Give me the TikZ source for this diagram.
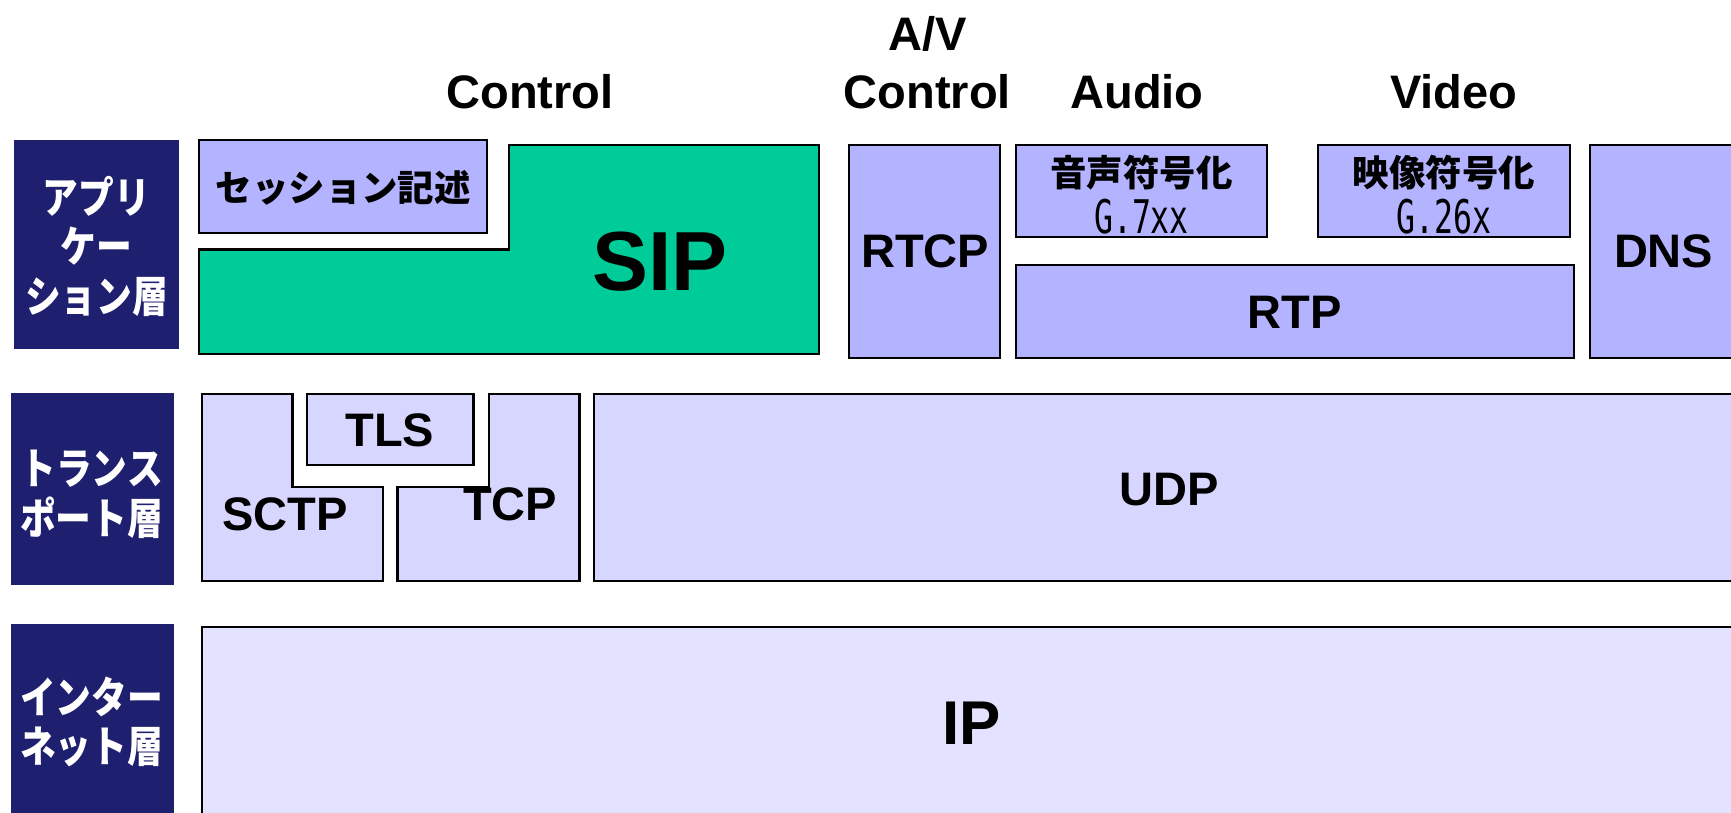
\documentclass[tikz,border=0pt]{standalone}
\usepackage{fontspec}
\setmainfont{Liberation Sans}
\newfontfamily\jp{Noto Sans CJK JP}
\newfontfamily\jpn{Noto Sans CJK JP}[FakeStretch=0.83]
\newfontfamily\monof{DejaVu Sans Mono}[FakeStretch=0.68]
\definecolor{navy}{HTML}{1F1F70}
\definecolor{appc}{HTML}{B3B3FF}
\definecolor{sipc}{HTML}{00CC99}
\definecolor{trc}{HTML}{D6D6FF}
\definecolor{ipc}{HTML}{E3E3FF}
\tikzset{
  layerbox/.style={fill=navy},
  layertext/.style={text=white, font=\jpn\bfseries\fontsize{19.5}{22.5}\selectfont, align=center, inner sep=0pt},
  protobox/.style={draw=black, line width=1pt},
  protolab/.style={font=\bfseries\fontsize{21.3}{24}\selectfont, inner sep=0pt},
  hdr/.style={font=\bfseries\fontsize{21.3}{24}\selectfont, anchor=base, inner sep=0pt},
  jplab/.style={font=\jp\bfseries\fontsize{16.5}{20}\selectfont, inner sep=0pt},
  codelab/.style={font=\monof\fontsize{21}{24}\selectfont, inner sep=0pt}
}
\begin{document}
\begin{tikzpicture}[x=0.5pt,y=-0.5pt]
\clip (0,0) rectangle (1568,736);
\fill[white] (0,0) rectangle (1568,736);

% headers
\node[hdr] (hctl) at (480,98) {Control};
\node[hdr] (hav) at (840,46) {A/V};
\node[hdr] (havc) at (840,98) {Control};
\node[hdr] (haud) at (1030,98) {Audio};
\node[hdr] (hvid) at (1317,98) {Video};

% layer labels
\fill[layerbox] (13,127) rectangle (162,316);
\node[layertext] (lapp) at (87.5,223) {アプリ\\ケー\\ション層};
\fill[layerbox] (10,356) rectangle (158,530);
\node[layertext] (ltr) at (83,448) {トランス\\ポート層};
\fill[layerbox] (10,565) rectangle (158,740);
\node[layertext] (lnet) at (83,654) {インター\\ネット層};

% application layer
\filldraw[protobox, fill=appc] (180,127) rectangle (441,211);
\node[jplab] (sdp) at (311,170) {セッション記述};
\filldraw[protobox, fill=sipc] (180,226) -- (461,226) -- (461,131) -- (742,131) -- (742,321) -- (180,321) -- cycle;
\node[font=\bfseries\fontsize{38}{40}\selectfont, inner sep=0pt] (sip) at (598,237) {SIP};
\filldraw[protobox, fill=appc] (769,131) rectangle (906,324);
\node[protolab] (rtcp) at (838,228) {RTCP};
\filldraw[protobox, fill=appc] (920,131) rectangle (1148,215);
\node[jplab] (acod) at (1034,156) {音声符号化};
\node[codelab] (g7) at (1034,196) {G.7xx};
\filldraw[protobox, fill=appc] (1194,131) rectangle (1422,215);
\node[jplab] (vcod) at (1308,156) {映像符号化};
\node[codelab] (g26) at (1308,196) {G.26x};
\filldraw[protobox, fill=appc] (920,240) rectangle (1426,324);
\node[protolab] (rtp) at (1173,283) {RTP};
\filldraw[protobox, fill=appc] (1440,131) rectangle (1600,324);
\node[protolab] (dns) at (1507,228) {DNS};

% transport layer
\filldraw[protobox, fill=trc] (183,357) -- (265,357) -- (265,441) -- (347,441) -- (347,526) -- (183,526) -- cycle;
\node[protolab] (sctp) at (258,466) {SCTP};
\filldraw[protobox, fill=trc] (278,357) rectangle (429,421);
\node[protolab] (tls) at (353,390) {TLS};
\filldraw[protobox, fill=trc] (360,441) -- (443,441) -- (443,357) -- (525,357) -- (525,526) -- (360,526) -- cycle;
\node[protolab] (tcp) at (462,457) {TCP};
\filldraw[protobox, fill=trc] (538,357) rectangle (1600,526);
\node[protolab] (udp) at (1059,443) {UDP};

% internet layer
\filldraw[protobox, fill=ipc] (183,568) rectangle (1600,760);
\node[font=\bfseries\fontsize{28}{30}\selectfont, inner sep=0pt] (ip) at (880,655) {IP};
\end{tikzpicture}
\end{document}
